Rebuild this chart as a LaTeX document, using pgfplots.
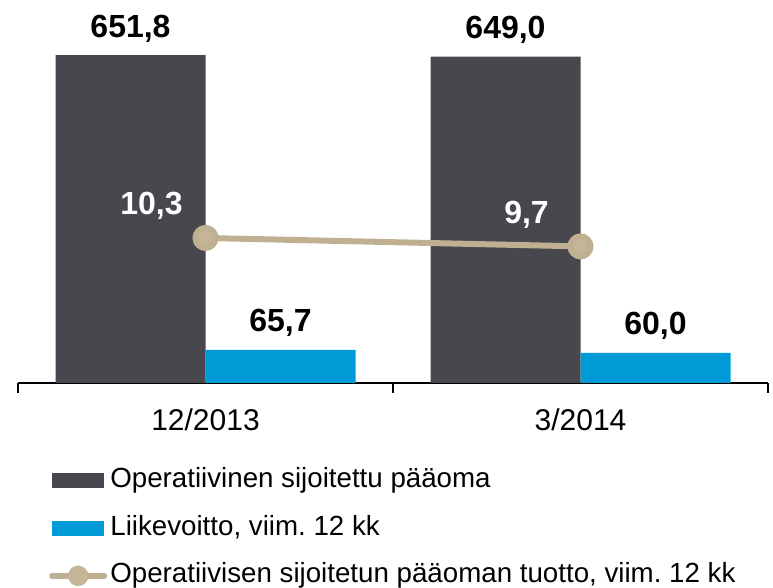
\documentclass[border=0pt]{standalone}
\usepackage{fontspec}
\setmainfont{Liberation Sans}
\usepackage{pgfplots}
\pgfplotsset{compat=1.18}
\frenchspacing
\definecolor{darkbar}{RGB}{72,71,77}
\definecolor{bluebar}{RGB}{0,155,214}
\definecolor{tanline}{RGB}{192,176,146}
\definecolor{tanmark}{RGB}{197,182,152}
\begin{document}
\begin{tikzpicture}[x=1bp,y=1bp]
\path[use as bounding box] (0,0) rectangle (773,588);
\begin{axis}[
  at={(18bp,205bp)}, anchor=south west,
  scale only axis, width=750bp, height=383bp,
  xmin=-0.5, xmax=1.5, ymin=0, ymax=761.4,
  axis x line*=bottom, axis y line=none,
  x axis line style={black, line width=1.3bp},
  xtick={0,1}, xticklabels={12/2013,3/2014},
  major tick length=0pt,
  minor xtick={-0.5,0.5,1.5},
  minor tick length=10bp, tick align=outside,
  minor tick style={black, line width=1.3bp},
  xticklabel style={font=\fontsize{30bp}{36bp}\selectfont, anchor=base, yshift=-48bp},
  nodes near coords={\pgfmathprintnumber[fixed,fixed zerofill,precision=1,use comma,assume math mode=true]{\pgfplotspointmeta}},
  every node near coord/.append style={font=\fontsize{32bp}{38bp}\selectfont\bfseries, anchor=base, yshift=18bp, text=black},
  legend style={at={(0.0413,-0.221)}, anchor=north west, draw=none, fill=none,
    inner sep=0pt,
    font=\fontsize{27.7bp}{33bp}\selectfont,
    nodes={inner sep=0pt, text height=20bp, text depth=6bp},
    row sep=21.5bp, /tikz/column sep=0pt,
    legend cell align=left},
]
\addplot[ybar, bar width=0.4, bar shift=0pt, fill=darkbar, draw=none,
  legend image code/.code={\fill[darkbar] (0bp,-7.5bp) rectangle (52bp,7.5bp); \path (58bp,0bp);}]
  coordinates {(-0.2,651.8) (0.8,649.0)};
\addlegendentry{Operatiivinen sijoitettu pääoma}
\addplot[ybar, bar width=0.4, bar shift=0pt, fill=bluebar, draw=none,
  legend image code/.code={\fill[bluebar] (0bp,-7.5bp) rectangle (52bp,7.5bp); \path (58bp,0bp);}]
  coordinates {(0.2,65.7) (1.2,60.0)};
\addlegendentry{Liikevoitto, viim. 12 kk}
\addlegendimage{legend image code/.code={\draw[tanline, line width=6bp, line cap=round] (0bp,0bp) -- (52bp,0bp); \fill[tanmark] (26bp,0bp) circle (10bp); \path (58bp,0bp);}}
\addlegendentry{Operatiivisen sijoitetun pääoman tuotto, viim. 12 kk}
\end{axis}
\begin{axis}[
  at={(18bp,205bp)}, anchor=south west,
  scale only axis, width=750bp, height=383bp,
  xmin=-0.5, xmax=1.5, ymin=0, ymax=27.2,
  hide x axis, hide y axis,
  nodes near coords={\pgfmathprintnumber[fixed,fixed zerofill,precision=1,use comma,assume math mode=true]{\pgfplotspointmeta}},
  every node near coord/.append style={font=\fontsize{32bp}{38bp}\selectfont\bfseries, anchor=base, xshift=-54bp, yshift=23bp, text=white},
]
\addplot[tanline, line width=6bp, mark=*, mark size=10bp, mark options={fill=tanmark, draw=none}]
  coordinates {(0,10.3) (1,9.7)};
\end{axis}
\end{tikzpicture}
\end{document}
